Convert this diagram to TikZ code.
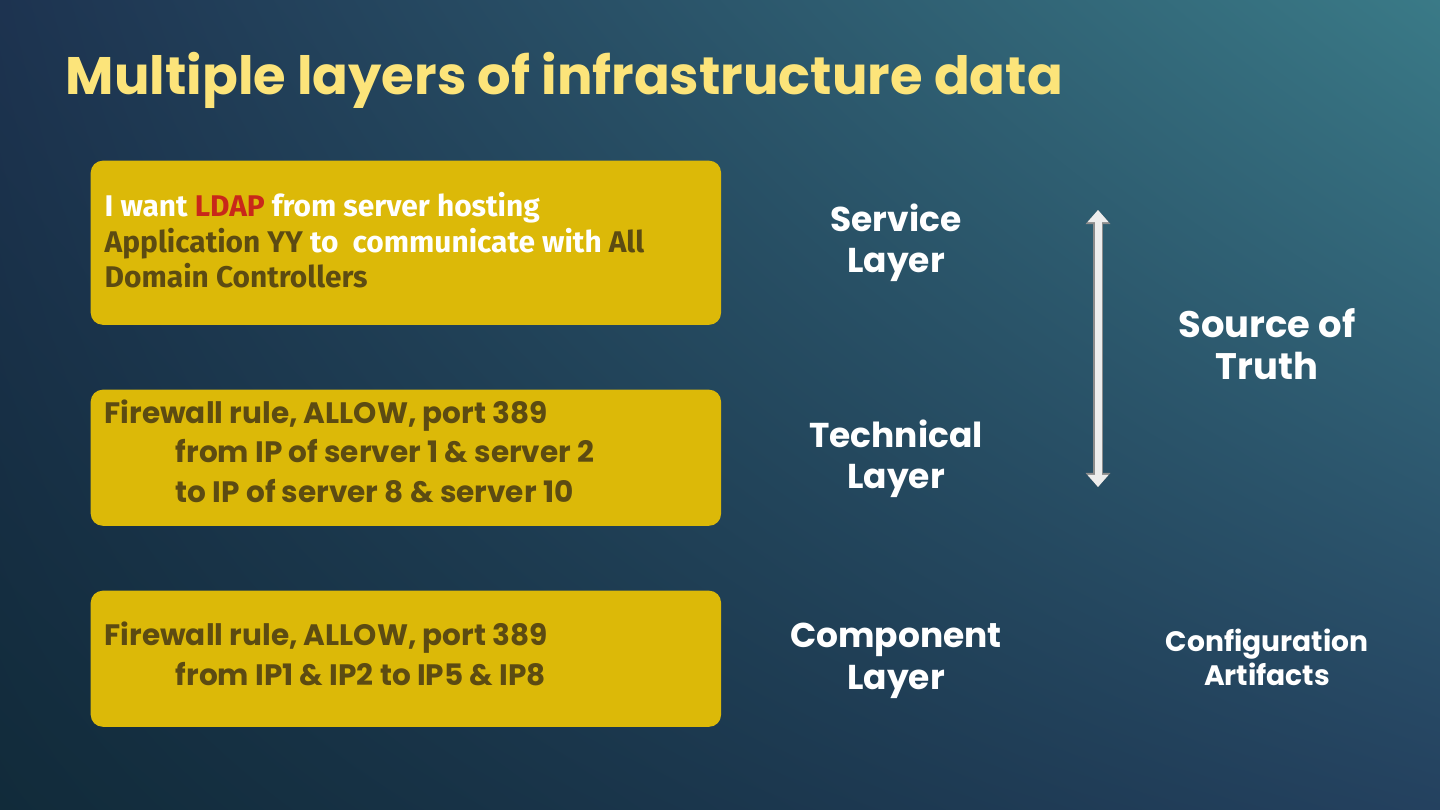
\documentclass[tikz,border=0pt]{standalone}
\usepackage{fontspec}
\setmainfont{Poppins}
\newfontfamily\firafont{Fira Sans}
\usepackage{tikz}
\usepackage{xcolor}
\usetikzlibrary{arrows.meta,shadings}
\definecolor{bg-tl}{HTML}{1D3350}
\definecolor{bg-tr}{HTML}{3A7A87}
\definecolor{bg-bl}{HTML}{112B3A}
\definecolor{bg-br}{HTML}{24415F}
\definecolor{box-yellow}{HTML}{DCB908}
\definecolor{box-brown}{HTML}{5C4B12}
\definecolor{ldap-red}{HTML}{C8281A}
\definecolor{title-yellow}{HTML}{FCE47A}
\tikzset{
    layer-box/.style = {fill=box-yellow, rectangle, rounded corners=0.12cm, minimum width=6.3cm, anchor=north west, inner sep=0pt},
    box-text/.style = {text=box-brown, anchor=base west, align=left, inner sep=0pt, font=\bfseries\fontsize{8.4}{11.1}\selectfont},
    layer-label/.style = {text=white, anchor=base, align=center, inner sep=0pt, font=\bfseries\fontsize{9.8}{11.7}\selectfont},
}

\begin{document}
\begin{tikzpicture}[x=0.01cm, y=-0.01cm]
\useasboundingbox (0,0) rectangle (1440,810);
\shade[upper left=bg-tl, upper right=bg-tr, lower left=bg-bl, lower right=bg-br] (0,0) rectangle (1440,810);
\node[anchor=base west, inner sep=0pt, text=title-yellow, font=\bfseries\fontsize{15}{18}\selectfont] (title) at (65,95) {Multiple layers of infrastructure data};

% the three layers (text nodes sit on the baseline of their last line)
\node[layer-box, minimum height=1.64cm] (service-box) at (90,160) {};
\node[layer-box, minimum height=1.36cm] (technical-box) at (90,389) {};
\node[layer-box, minimum height=1.36cm] (component-box) at (90,590) {};

\node[box-text, font=\firafont\bfseries\fontsize{8.5}{10.2}\selectfont] (service-text) at (104,288)
    {\textcolor{white}{I want} \textcolor{ldap-red}{LDAP} \textcolor{white}{from server hosting}\\
     Application YY \textcolor{white}{to\ \ communicate with} All\\
     Domain Controllers};
\node[box-text] (technical-text) at (104,502)
    {Firewall rule, ALLOW, port 389\\
     \hspace*{0.71cm}from IP of server 1 \& server 2\\
     \hspace*{0.71cm}to IP of server 8 \& server 10};
\node[box-text] (component-text) at (104,685)
    {Firewall rule, ALLOW, port 389\\
     \hspace*{0.71cm}from IP1 \& IP2 to IP5 \& IP8};

\node[layer-label] (service-label) at (896,273) {Service\\Layer};
\node[layer-label] (technical-label) at (896,489) {Technical\\Layer};
\node[layer-label] (component-label) at (896,689) {Component\\Layer};

% right hand side
\coordinate (arrow-top) at (1098,210);
\coordinate (arrow-bottom) at (1098,487);
\draw[line width=0.1cm, black!45, {Triangle[width=0.24cm, length=0.14cm]}-{Triangle[width=0.24cm, length=0.14cm]}] (arrow-top) -- (arrow-bottom);
\draw[line width=0.07cm, black!7, {Triangle[width=0.2cm, length=0.12cm]}-{Triangle[width=0.2cm, length=0.12cm]}] (arrow-top) -- (arrow-bottom);

\node[layer-label, font=\bfseries\fontsize{10.5}{12.2}\selectfont] (truth-label) at (1267,380) {Source of\\Truth};
\node[layer-label, font=\bfseries\fontsize{8}{9.4}\selectfont] (artifacts-label) at (1267,685) {Configuration\\Artifacts};
\end{tikzpicture}
\end{document}
